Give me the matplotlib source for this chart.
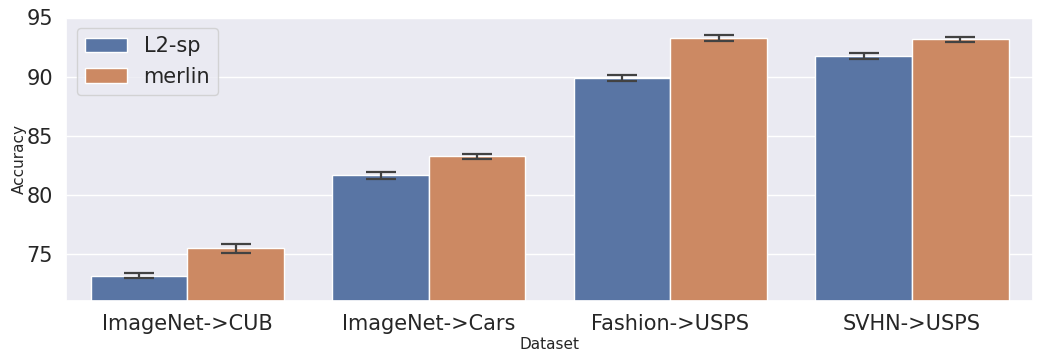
import numpy as np
import seaborn as sns
import matplotlib
matplotlib.use('Agg')
import matplotlib.pyplot as plt

# accuracy per dataset, mean and error for each method
datasets = ['ImageNet->CUB', 'ImageNet->Cars', 'Fashion->USPS', 'SVHN->USPS']
l2sp_mean = [73.15, 81.65, 89.85, 91.75]
l2sp_err = [0.2, 0.3, 0.25, 0.25]
merlin_mean = [75.45, 83.25, 93.25, 93.15]
merlin_err = [0.35, 0.2, 0.25, 0.2]

sns.set_theme()
pal = [sns.desaturate(c, 0.75) for c in sns.color_palette()[:2]]

fig, ax = plt.subplots(figsize=(10.38, 3.5), dpi=100)
x = np.arange(len(datasets))
w = 0.4
err_kw = dict(ecolor='#424242', elinewidth=1.6, capthick=1.6)
ax.bar(x - w/2, l2sp_mean, w, yerr=l2sp_err, capsize=10.5, color=pal[0],
       edgecolor='white', linewidth=1, label='L2-sp', error_kw=err_kw)
ax.bar(x + w/2, merlin_mean, w, yerr=merlin_err, capsize=10.5, color=pal[1],
       edgecolor='white', linewidth=1, label='merlin', error_kw=err_kw)

ax.set_xticks(x)
ax.set_xticklabels(datasets)
ax.set_xlim(-0.5, 3.5)
ax.set_ylim(71, 95)
ax.set_yticks([75, 80, 85, 90, 95])
ax.grid(False, axis='x')
ax.tick_params(labelsize=15)
ax.set_xlabel('Dataset', fontsize=11, labelpad=2)
ax.set_ylabel('Accuracy', fontsize=11, labelpad=0)
ax.legend(loc='upper left', fontsize=15)

plt.subplots_adjust(left=0.064, right=0.995, top=0.95, bottom=0.14)
plt.savefig('out.png')
